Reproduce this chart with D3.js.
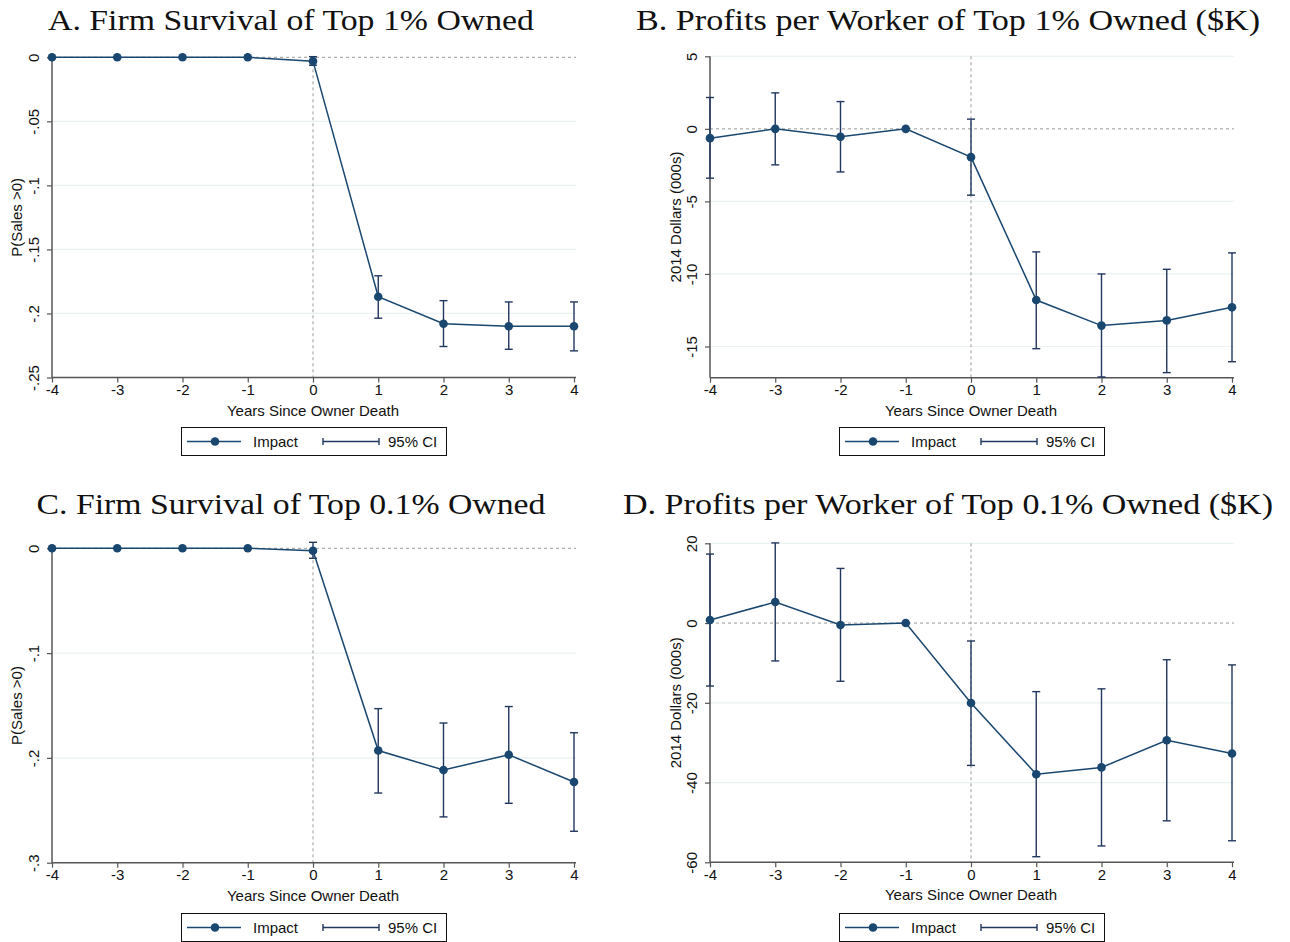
<!DOCTYPE html>
<html>
<head>
<meta charset="utf-8">
<script src="https://cdn.jsdelivr.net/npm/d3@7"></script>
<style>
  html, body { margin: 0; padding: 0; background: #fff; }
  svg { display: block; }
</style>
</head>
<body>
<svg id="chart" width="1290" height="942"></svg>
<script>
// ---------------- DATA ----------------
const years = [-4, -3, -2, -1, 0, 1, 2, 3, 4];
const yearLabels = ["-4", "-3", "-2", "-1", "0", "1", "2", "3", "4"];

const aImpact = [0, 0, 0, 0, -0.003, -0.187, -0.208, -0.210, -0.210];
const aLow    = [null, null, null, null, -0.0062, -0.2037, -0.2258, -0.228, -0.2292];
const aHigh   = [null, null, null, null, 0.0005, -0.1706, -0.190, -0.191, -0.191];

const bImpact = [-0.64, 0.0, -0.55, 0, -1.95, -11.8, -13.56, -13.2, -12.3];
const bLow    = [-3.4, -2.48, -2.97, null, -4.57, -15.15, -17.1, -16.8, -16.05];
const bHigh   = [2.16, 2.48, 1.88, null, 0.67, -8.48, -10.0, -9.68, -8.55];

const cImpact = [0, 0, 0, 0, -0.0023, -0.193, -0.2115, -0.197, -0.223];
const cLow    = [null, null, null, null, -0.0095, -0.2335, -0.2563, -0.2433, -0.27];
const cHigh   = [null, null, null, null, 0.0057, -0.153, -0.1667, -0.151, -0.176];

const dImpact = [0.75, 5.27, -0.5, 0, -20.05, -37.9, -36.2, -29.4, -32.7];
const dLow    = [-15.8, -9.5, -14.6, null, -35.7, -58.6, -55.9, -49.6, -54.6];
const dHigh   = [17.3, 20.1, 13.7, null, -4.5, -17.2, -16.5, -9.2, -10.5];

const aTicks = [0, -0.05, -0.1, -0.15, -0.2, -0.25];
const aTickLabels = ["0", "-.05", "-.1", "-.15", "-.2", "-.25"];
const bTicks = [5, 0, -5, -10, -15];
const bTickLabels = ["5", "0", "-5", "-10", "-15"];
const cTicks = [0, -0.1, -0.2, -0.3];
const cTickLabels = ["0", "-.1", "-.2", "-.3"];
const dTicks = [20, 0, -20, -40, -60];
const dTickLabels = ["20", "0", "-20", "-40", "-60"];

const titles = [
  "A. Firm Survival of Top 1% Owned",
  "B. Profits per Worker of Top 1% Owned ($K)",
  "C. Firm Survival of Top 0.1% Owned",
  "D. Profits per Worker of Top 0.1% Owned ($K)"
];
const yTitles = ["P(Sales >0)", "2014 Dollars (000s)", "P(Sales >0)", "2014 Dollars (000s)"];
const xTitle = "Years Since Owner Death";
const legendLabels = ["Impact", "95% CI"];

// ---------------- STYLE / LAYOUT ----------------
const LINE = "#1a476f";
const CI = "#22375f";
const GRID = "#eaf2f3";
const AXIS = "#555";
const REF = "#9a9a9a";
const SANS = "'Liberation Sans', Arial, Helvetica, sans-serif";
const SERIF = "'Liberation Serif', 'Times New Roman', serif";

const panels = [
  { impact: aImpact, low: aLow, high: aHigh, ticks: aTicks, tl: aTickLabels,
    ydom: [-0.25, 0], yr: [377.5, 57.3], xr: [52, 574],
    title: titles[0], tx: 291, ty: 30, tw: 486, ytitle: yTitles[0], yTitleX: 22, legX: 181, legY: 427 },
  { impact: bImpact, low: bLow, high: bHigh, ticks: bTicks, tl: bTickLabels,
    ydom: [-17.15, 5], yr: [377.7, 56.3], xr: [710, 1232],
    title: titles[1], tx: 948, ty: 30, tw: 624, ytitle: yTitles[1], yTitleX: 681, legX: 839, legY: 427 },
  { impact: cImpact, low: cLow, high: cHigh, ticks: cTicks, tl: cTickLabels,
    ydom: [-0.3, 0], yr: [862.7, 548.3], xr: [52, 574],
    title: titles[2], tx: 291, ty: 514, tw: 509, ytitle: yTitles[2], yTitleX: 22, legX: 181, legY: 913 },
  { impact: dImpact, low: dLow, high: dHigh, ticks: dTicks, tl: dTickLabels,
    ydom: [-60, 20], yr: [862.3, 543.3], xr: [710, 1232],
    title: titles[3], tx: 948, ty: 514, tw: 650, ytitle: yTitles[3], yTitleX: 681, legX: 839, legY: 913 }
];

const svg = d3.select("#chart");

panels.forEach(p => {
  const g = svg.append("g");
  const x = d3.scaleLinear().domain([-4, 4]).range(p.xr);
  const y = d3.scaleLinear().domain(p.ydom).range(p.yr);
  const x0 = p.xr[0], x1 = p.xr[1] + 2;
  const yTop = d3.min(p.yr), yBot = d3.max(p.yr);

  // title
  g.append("text")
    .attr("x", p.tx).attr("y", p.ty)
    .attr("text-anchor", "middle")
    .attr("font-family", SERIF).attr("font-size", 30)
    .attr("textLength", p.tw).attr("lengthAdjust", "spacingAndGlyphs")
    .attr("fill", "#111")
    .text(p.title);

  // gridlines
  g.selectAll(".grid").data(p.ticks.filter(t => t !== 0 && t !== p.ydom[0]))
    .enter().append("line")
    .attr("x1", x0).attr("x2", x1)
    .attr("y1", d => y(d)).attr("y2", d => y(d))
    .attr("stroke", GRID).attr("stroke-width", 1.2);

  // reference lines
  g.append("line")
    .attr("x1", x0).attr("x2", x1).attr("y1", y(0)).attr("y2", y(0))
    .attr("stroke", REF).attr("stroke-width", 1).attr("stroke-dasharray", "3,3");
  g.append("line")
    .attr("x1", x(0)).attr("x2", x(0)).attr("y1", yTop).attr("y2", yBot)
    .attr("stroke", REF).attr("stroke-width", 1).attr("stroke-dasharray", "3,3");

  // axes
  const yAxis = d3.axisLeft(y).tickValues(p.ticks).tickSize(5).tickFormat((d, i) => p.tl[i]);
  const yg = g.append("g").attr("transform", `translate(${x0},0)`).call(yAxis);
  yg.select(".domain").attr("stroke", AXIS).attr("stroke-width", 1.5)
    .attr("d", `M-0,${yTop}V${yBot}`);
  yg.selectAll(".tick line").attr("stroke", AXIS).attr("stroke-width", 1.2);
  yg.selectAll(".tick text")
    .attr("font-family", SANS).attr("font-size", 15).attr("fill", "#111")
    .attr("x", null).attr("dy", null)
    .attr("text-anchor", "middle")
    .attr("transform", "translate(-13,0) rotate(-90)");

  const xAxis = d3.axisBottom(x).tickValues(years).tickSize(5).tickFormat((d, i) => yearLabels[i]);
  const xg = g.append("g").attr("transform", `translate(0,${yBot})`).call(xAxis);
  xg.select(".domain").attr("stroke", AXIS).attr("stroke-width", 1.5)
    .attr("d", `M${x0},0H${x1}`);
  xg.selectAll(".tick line").attr("stroke", AXIS).attr("stroke-width", 1.2);
  xg.selectAll(".tick text")
    .attr("font-family", SANS).attr("font-size", 15).attr("fill", "#111")
    .attr("y", 7).attr("dy", "0.71em");

  // axis titles
  g.append("text")
    .attr("x", x(0)).attr("y", yBot + 38)
    .attr("text-anchor", "middle")
    .attr("font-family", SANS).attr("font-size", 15).attr("fill", "#111")
    .text(xTitle);
  g.append("text")
    .attr("transform", `translate(${p.yTitleX},${(yTop + yBot) / 2}) rotate(-90)`)
    .attr("text-anchor", "middle")
    .attr("font-family", SANS).attr("font-size", 15).attr("fill", "#111")
    .text(p.ytitle);

  // data
  const rows = years.map((yr, i) => ({ yr, v: p.impact[i], lo: p.low[i], hi: p.high[i] }));
  const ciRows = rows.filter(r => r.lo !== null && r.hi !== null);

  const ci = g.append("g").attr("stroke", CI).attr("stroke-width", 1.4).attr("fill", "none");
  ci.selectAll(".v").data(ciRows).enter().append("line")
    .attr("x1", d => x(d.yr)).attr("x2", d => x(d.yr))
    .attr("y1", d => y(d.lo)).attr("y2", d => y(d.hi));
  ci.selectAll(".capl").data(ciRows).enter().append("line")
    .attr("x1", d => x(d.yr) - 4).attr("x2", d => x(d.yr) + 4)
    .attr("y1", d => y(d.lo)).attr("y2", d => y(d.lo));
  ci.selectAll(".caph").data(ciRows).enter().append("line")
    .attr("x1", d => x(d.yr) - 4).attr("x2", d => x(d.yr) + 4)
    .attr("y1", d => y(d.hi)).attr("y2", d => y(d.hi));

  const line = d3.line().x(d => x(d.yr)).y(d => y(d.v));
  g.append("path").datum(rows)
    .attr("d", line).attr("fill", "none")
    .attr("stroke", LINE).attr("stroke-width", 1.5);
  g.selectAll(".pt").data(rows).enter().append("circle")
    .attr("cx", d => x(d.yr)).attr("cy", d => y(d.v)).attr("r", 4.3)
    .attr("fill", LINE);

  // legend
  const lg = g.append("g").attr("transform", `translate(${p.legX},${p.legY})`);
  lg.append("rect").attr("x", 0.5).attr("y", 0.5).attr("width", 265).attr("height", 28)
    .attr("fill", "#fff").attr("stroke", "#111").attr("stroke-width", 1);
  lg.append("line").attr("x1", 6).attr("x2", 60).attr("y1", 14.5).attr("y2", 14.5)
    .attr("stroke", LINE).attr("stroke-width", 1.5);
  lg.append("circle").attr("cx", 34).attr("cy", 14.5).attr("r", 4.3).attr("fill", LINE);
  lg.append("text").attr("x", 72).attr("y", 20)
    .attr("font-family", SANS).attr("font-size", 15).attr("fill", "#111")
    .text(legendLabels[0]);
  lg.append("line").attr("x1", 142).attr("x2", 198).attr("y1", 14.5).attr("y2", 14.5)
    .attr("stroke", CI).attr("stroke-width", 1.4);
  lg.append("line").attr("x1", 142).attr("x2", 142).attr("y1", 11).attr("y2", 18)
    .attr("stroke", CI).attr("stroke-width", 1.4);
  lg.append("line").attr("x1", 198).attr("x2", 198).attr("y1", 11).attr("y2", 18)
    .attr("stroke", CI).attr("stroke-width", 1.4);
  lg.append("text").attr("x", 207).attr("y", 20)
    .attr("font-family", SANS).attr("font-size", 15).attr("fill", "#111")
    .text(legendLabels[1]);
});
</script>
</body>
</html>
